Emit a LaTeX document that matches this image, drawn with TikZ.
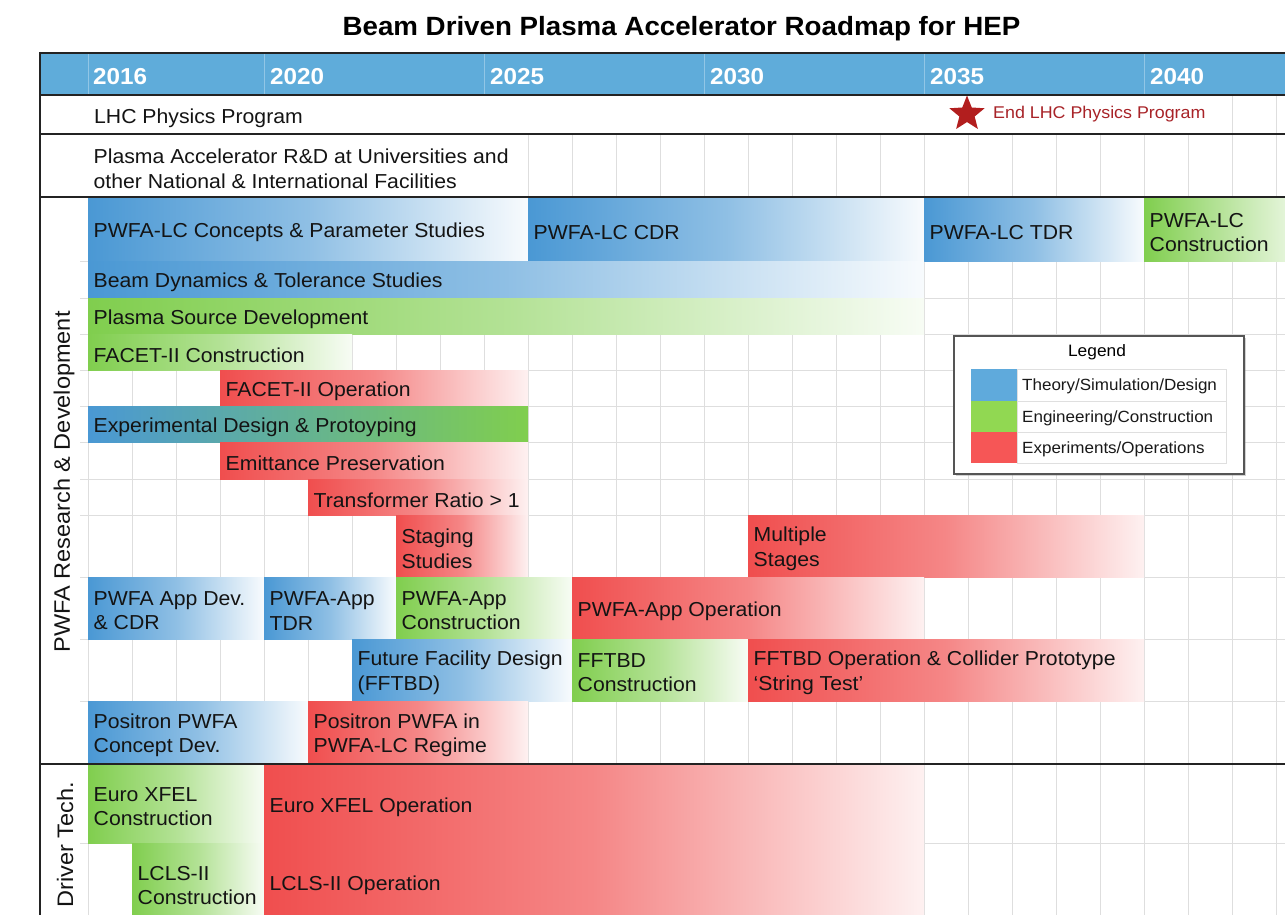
\documentclass[tikz,border=0pt]{standalone}
\usepackage{fontspec}
\setmainfont[FakeStretch=1.05]{Liberation Sans}
\usetikzlibrary{shapes.geometric,shadows}
\definecolor{hdrblue}{RGB}{95,172,218}
\definecolor{hdrline}{RGB}{145,198,230}
\definecolor{gridc}{RGB}{222,222,222}
\definecolor{framec}{RGB}{35,35,35}
\definecolor{cB}{RGB}{74,152,212}
\definecolor{cG}{RGB}{128,206,78}
\definecolor{cR}{RGB}{240,78,78}
\definecolor{lB}{RGB}{95,170,220}
\definecolor{lG}{RGB}{145,216,82}
\definecolor{lR}{RGB}{246,86,86}
\definecolor{starred}{RGB}{178,30,30}
\definecolor{endtxt}{RGB}{168,35,40}
\definecolor{legframe}{RGB}{85,85,85}
\newcommand\barfont{\fontsize{20.2}{24.5}\selectfont}
\tikzset{
  bartext/.style={inner sep=0pt, anchor=west, align=left, font=\barfont, text=black!92, yshift=-2.8pt},
  barbox/.style={inner sep=0pt, outer sep=0pt, anchor=north west, draw=none},
  bshade/.style={left color=cB, right color=cB!4!white, middle color=cB!62!white},
  gshade/.style={left color=cG, right color=cG!6!white, middle color=cG!60!white},
  rshade/.style={left color=cR, right color=cR!8!white, middle color=cR!68!white},
  bgshade/.style={left color=cB, right color=cG, middle color=cB!50!cG},
  gridline/.style={draw=gridc, line width=1pt},
  thick frame/.style={draw=framec, line width=2.6pt},
  yearlabel/.style={anchor=west, inner sep=0pt, text=white, font=\bfseries\fontsize{23.1}{26}\selectfont},
  sidelabel/.style={rotate=90, inner sep=0pt, font=\fontsize{22.4}{26}\selectfont, text=black!92},
  legtext/.style={anchor=west, inner sep=0pt, font=\fontsize{16.2}{19}\selectfont, text=black!90, yshift=-1.5pt},
  legcell/.style={anchor=north west, inner sep=0pt, outer sep=0pt, draw=gray!25, line width=0.8pt, fill=white},
  legswatch/.style={anchor=north west, inner sep=0pt, outer sep=0pt, draw=none},
}
\newcommand\ganttbar[7]{%
  \node[barbox,#6,minimum width={(#3-#2)*1pt},minimum height={(#5-#4)*1pt}] (#1) at (#2,#4) {};
  \node[bartext] (#1t) at ([xshift=5.5pt]#1.west) {#7};
}
\begin{document}
\begin{tikzpicture}[x=1pt,y=-1pt]
\useasboundingbox (0,0) rectangle (1285,915);
\clip (0,0) rectangle (1285,915);
\fill[white] (0,0) rectangle (1285,915);

% title
\node[font=\bfseries\fontsize{26.4}{30}\selectfont, inner sep=0pt] (title) at (681.5,28.5) {Beam Driven Plasma Accelerator Roadmap for HEP};

% grid
\foreach \k in {0,...,27} \draw[gridline] ({88+44*\k},197) -- ({88+44*\k},915);
\foreach \k in {10,...,27} \draw[gridline] ({88+44*\k},134) -- ({88+44*\k},197);
\foreach \k in {26,27} \draw[gridline] ({88+44*\k},95) -- ({88+44*\k},134);
\foreach \yy in {261,298,334,370,406,442,479,515,577,639,701,843} \draw[gridline] (80,\yy) -- (1285,\yy);

% top rows
\node[bartext] (lhc) at (94,115) {LHC Physics Program};
\node[bartext] (rnd) at (93.5,166) {Plasma Accelerator R\&D at Universities and\\other National \& International Facilities};
\node[star, star points=5, star point ratio=2.3, fill=starred, minimum size=37pt, inner sep=0pt] (star) at (967,114) {};
\node[anchor=west, inner sep=0pt, text=endtxt, font=\fontsize{17}{20}\selectfont, yshift=-1.5pt] (endlhc) at (993,113) {End LHC Physics Program};

% bars: name, x0, x1, y0, y1, shading, text
\ganttbar{c1}{88}{528}{198}{261}{bshade}{PWFA-LC Concepts \& Parameter Studies}
\ganttbar{c2}{528}{924}{198}{261}{bshade}{PWFA-LC CDR}
\ganttbar{c3}{924}{1144}{198}{261}{bshade}{PWFA-LC TDR}
\ganttbar{c4}{1144}{1285}{198}{261}{left color=cG, right color=cG!22!white}{PWFA-LC\\Construction}
\ganttbar{bd}{88}{924}{261}{298}{bshade}{Beam Dynamics \& Tolerance Studies}
\ganttbar{ps}{88}{924}{298}{334}{gshade}{Plasma Source Development}
\ganttbar{fc}{88}{352}{334}{370}{gshade}{FACET-II Construction}
\ganttbar{fo}{220}{528}{370}{406}{rshade}{FACET-II Operation}
\ganttbar{ed}{88}{528}{406}{442}{bgshade}{Experimental Design \& Protoyping}
\ganttbar{ep}{220}{528}{442}{479}{rshade}{Emittance Preservation}
\ganttbar{tr}{308}{528}{479}{515}{rshade}{Transformer Ratio > 1}
\ganttbar{ss}{396}{528}{515}{577}{rshade}{Staging\\Studies}
\ganttbar{ms}{748}{1144}{515}{577}{rshade}{Multiple\\Stages}
\ganttbar{a1}{88}{264}{577}{639}{bshade}{PWFA App Dev.\\\& CDR}
\ganttbar{a2}{264}{396}{577}{639}{bshade}{PWFA-App\\TDR}
\ganttbar{a3}{396}{572}{577}{639}{gshade}{PWFA-App\\Construction}
\ganttbar{a4}{572}{924}{577}{639}{rshade}{PWFA-App Operation}
\ganttbar{f1}{352}{572}{639}{701}{bshade}{Future Facility Design\\(FFTBD)}
\ganttbar{f2}{572}{748}{639}{701}{gshade}{FFTBD\\Construction}
\ganttbar{f3}{748}{1144}{639}{701}{rshade}{FFTBD Operation \& Collider Prototype\\‘String Test’}
\ganttbar{p1}{88}{308}{701}{764}{bshade}{Positron PWFA\\Concept Dev.}
\ganttbar{p2}{308}{528}{701}{764}{rshade}{Positron PWFA in\\PWFA-LC Regime}
\ganttbar{e1}{88}{264}{765}{843}{gshade}{Euro XFEL\\Construction}
\ganttbar{e2}{264}{924}{765}{843}{rshade}{Euro XFEL Operation}
\ganttbar{l1}{132}{264}{843}{922}{gshade}{LCLS-II\\Construction}
\ganttbar{l2}{264}{924}{843}{922}{rshade}{LCLS-II Operation}

% header band
\fill[hdrblue] (40,53) rectangle (1285,95);
\foreach \xx in {88,264,484,704,924,1144} \draw[hdrline, line width=1pt] (\xx,54) -- (\xx,94);
\node[yearlabel] (y2016) at (93,77) {2016};
\node[yearlabel] (y2020) at (270,77) {2020};
\node[yearlabel] (y2025) at (490,77) {2025};
\node[yearlabel] (y2030) at (710,77) {2030};
\node[yearlabel] (y2035) at (930,77) {2035};
\node[yearlabel] (y2040) at (1150,77) {2040};

% frame lines
\foreach \yy in {53,95,134,197,764} \draw[thick frame] (40,\yy) -- (1285,\yy);
\draw[thick frame] (40,52) -- (40,915);

% side labels
\node[sidelabel] (pwfa) at (64,482) {PWFA Research \& Development};
\node[sidelabel] (drv) at (65,845) {Driver Tech.};

% legend
\node[anchor=north west, draw=legframe, line width=1.6pt, fill=white, minimum width=290pt, minimum height=138pt, inner sep=0pt,
      drop shadow={shadow xshift=2pt, shadow yshift=-2pt, opacity=0.35}] (leg) at (953,335) {};
\node[inner sep=0pt, font=\fontsize{16.5}{19}\selectfont] (legt) at (1097,352) {Legend};
\node[legcell, minimum width=209pt, minimum height=32pt] (lc1) at (1017,369) {};
\node[legcell, minimum width=209pt, minimum height=31pt] (lc2) at (1017,401) {};
\node[legcell, minimum width=209pt, minimum height=31pt] (lc3) at (1017,432) {};
\node[legswatch, fill=lB, minimum width=46pt, minimum height=32pt] (ls1) at (971,369) {};
\node[legswatch, fill=lG, minimum width=46pt, minimum height=31pt] (ls2) at (971,401) {};
\node[legswatch, fill=lR, minimum width=46pt, minimum height=31pt] (ls3) at (971,432) {};
\node[legtext] (lt1) at (1022,385) {Theory/Simulation/Design};
\node[legtext] (lt2) at (1022,416.5) {Engineering/Construction};
\node[legtext] (lt3) at (1022,447.5) {Experiments/Operations};
\end{tikzpicture}
\end{document}
